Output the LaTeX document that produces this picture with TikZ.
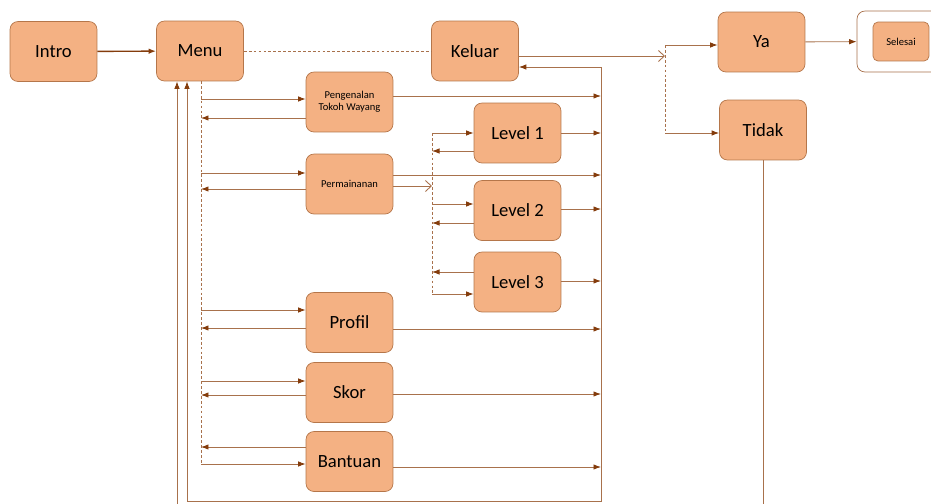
\documentclass[tikz,border=0pt]{standalone}
\usepackage{fontspec}
\setmainfont{Carlito}
\usetikzlibrary{arrows.meta}
\definecolor{boxfill}{HTML}{F4B183}
\definecolor{boxline}{HTML}{B5764A}
\definecolor{linec}{HTML}{A8714C}
\definecolor{tipc}{HTML}{843C0C}
\tikzset{
  block/.style={draw=boxline, fill=boxfill, rounded corners=0.16cm, minimum width=1.74cm,
    minimum height=1.2cm, inner sep=0pt, align=center, font=\fontsize{10.6}{12}\selectfont},
  smalltext/.style={font=\fontsize{6}{7}\selectfont},
  link/.style={draw=linec, line width=0.5pt},
  arr/.style={link, -{Latex[length=1.5mm,width=1.1mm,color=tipc]}},
  openarr/.style={link, -{Straight Barb[length=1.2mm,width=2.2mm]}},
  dotline/.style={link, dash pattern=on 1.6pt off 1.2pt}
}
\begin{document}
\begin{tikzpicture}[x=0.02cm, y=-0.02cm]
	\useasboundingbox (0,0) rectangle (931,504);

	\node[block] (intro) at (53.5,51.5) {Intro};
	\node[block] (menu) at (200,51) {Menu};
	\node[block] (keluar) at (475,51) {Keluar};
	\node[block] (ya) at (761.5,42) {Ya};
	\node[block] (tidak) at (763,130) {Tidak};
	\node[block, draw=linec, fill=white, minimum width=1.76cm, minimum height=1.22cm] (frame) at (901,41.5) {};
	\node[block, smalltext, minimum width=1.12cm, minimum height=0.78cm, rounded corners=0.1cm] (selesai) at (901,41.5) {Selesai};

	\node[block, smalltext] (pengenalan) at (349.5,102) {Pengenalan\\Tokoh Wayang};
	\node[block, smalltext] (permainan) at (349.5,184) {Permainanan};
	\node[block] (profil) at (349.5,322.5) {Profil};
	\node[block] (skor) at (349.5,392.5) {Skor};
	\node[block] (bantuan) at (349.5,461.5) {Bantuan};

	\node[block] (lv1) at (517.5,133) {Level 1};
	\node[block] (lv2) at (517.5,210.5) {Level 2};
	\node[block] (lv3) at (517.5,282) {Level 3};

	\draw[arr, draw=tipc, line width=0.8pt] (intro) -- (menu);
	\draw[dotline] (menu) -- (keluar);

	\coordinate (split) at (665,56);
	\coordinate (yin) at (665,45);
	\coordinate (tin) at (665,133);
	\draw[openarr] (keluar.east |- split) -- (split);
	\draw[dotline] (yin) -- (tin);
	\draw[arr] (yin) -- (ya.west |- yin);
	\draw[arr] (tin) -- (tidak.west |- tin);
	\draw[arr] (ya) -- (frame);
	\coordinate (tbot) at (763,504);
	\draw[link] (tidak) -- (tbot);

	\coordinate (mtop) at (201,81);
	\coordinate (mbot) at (201,464);
	\draw[dotline] (mtop) -- (mbot);
	\foreach \n/\a/\b in {pengenalan/99/118, permainan/173/189, profil/310/328, skor/381/395, bantuan/464/447} {
		\coordinate (in-\n) at (201,\a);
		\coordinate (out-\n) at (201,\b);
		\draw[arr] (in-\n) -- (\n.west |- in-\n);
		\draw[arr] (\n.west |- out-\n) -- (out-\n);
	}

	\coordinate (ltop) at (432,133);
	\coordinate (lbot) at (432,294);
	\coordinate (lsplit) at (432,186);
	\draw[dotline] (ltop) -- (lbot);
	\draw[openarr] (permainan.east |- lsplit) -- (lsplit);
	\foreach \n/\a/\b in {lv1/133/151, lv2/204/223, lv3/294/272} {
		\coordinate (in-\n) at (432,\a);
		\coordinate (out-\n) at (432,\b);
		\draw[arr] (in-\n) -- (\n.west |- in-\n);
		\draw[arr] (\n.west |- out-\n) -- (out-\n);
	}

	\coordinate (rtop) at (601,67);
	\coordinate (rbot) at (601,501);
	\coordinate (back) at (187,501);
	\coordinate (ext) at (177,504);
	\draw[arr] (rtop) -- (keluar.east |- rtop);
	\draw[arr] (rtop) -- (rbot) -- (back) -- (back |- menu.south);
	\draw[arr] (ext) -- (ext |- menu.south);
	\foreach \n/\y in {pengenalan/96, lv1/133, permainan/175, lv2/209, lv3/281, profil/329, skor/394, bantuan/467} {
		\coordinate (bus-\n) at (601,\y);
		\draw[arr] (\n.east |- bus-\n) -- (bus-\n);
	}
\end{tikzpicture}
\end{document}
